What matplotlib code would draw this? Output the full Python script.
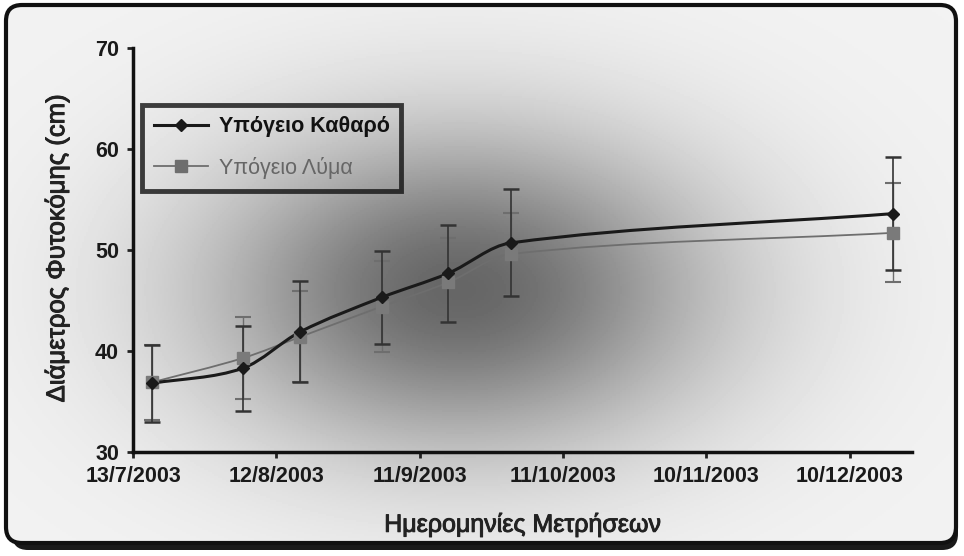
import numpy as np
import matplotlib
matplotlib.use("Agg")
import matplotlib.pyplot as plt
import matplotlib.dates as mdates
import matplotlib.patheffects as pe
from matplotlib.path import Path
from matplotlib.patches import PathPatch, FancyBboxPatch
from matplotlib.lines import Line2D
from datetime import datetime

# measurement dates and plant diameter (cm), mean and error
dates = ["17/7/2003", "5/8/2003", "17/8/2003", "3/9/2003",
         "17/9/2003", "30/9/2003", "19/12/2003"]
clean_mean = [36.8, 38.3, 41.9, 45.3, 47.7, 50.7, 53.6]
clean_err = [3.8, 4.2, 5.0, 4.6, 4.8, 5.3, 5.6]
sludge_mean = [36.9, 39.3, 41.4, 44.4, 46.8, 49.6, 51.7]
sludge_err = [3.7, 4.1, 4.5, 4.5, 4.4, 4.1, 4.9]

tick_labels = ["13/7/2003", "12/8/2003", "11/9/2003",
               "11/10/2003", "10/11/2003", "10/12/2003"]
x_range = ["13/7/2003", "23/12/2003"]

labels = ["Υπόγειο Καθαρό", "Υπόγειο Λύμα"]

FONT = ["Liberation Sans", "DejaVu Sans"]


def to_num(s):
    return mdates.date2num(datetime.strptime(s, "%d/%m/%Y"))


def smooth_path(x, y):
    # cubic hermite through the points (no overshoot in x)
    x = np.asarray(x, float)
    y = np.asarray(y, float)
    n = len(x)
    m = np.zeros(n)
    m[0] = (y[1] - y[0]) / (x[1] - x[0])
    m[-1] = (y[-1] - y[-2]) / (x[-1] - x[-2])
    for i in range(1, n - 1):
        m[i] = (y[i + 1] - y[i - 1]) / (x[i + 1] - x[i - 1])
    verts = [(x[0], y[0])]
    codes = [Path.MOVETO]
    for i in range(n - 1):
        dx = (x[i + 1] - x[i]) / 3.0
        verts += [(x[i] + dx, y[i] + m[i] * dx),
                  (x[i + 1] - dx, y[i + 1] - m[i + 1] * dx),
                  (x[i + 1], y[i + 1])]
        codes += [Path.CURVE4] * 3
    return Path(verts, codes)


def main():
    xs = [to_num(d) for d in dates]

    fig = plt.figure(figsize=(9.64, 5.56), dpi=100)
    fig.patch.set_facecolor("white")

    # background: black shadow, rounded frame, radial grey gradient
    bg = fig.add_axes([0, 0, 1, 1], zorder=-5)
    bg.set_xlim(0, 964)
    bg.set_ylim(556, 0)
    bg.axis("off")

    shadow = FancyBboxPatch((12, 14), 946, 536,
                            boxstyle="round,pad=0,rounding_size=16",
                            facecolor="#1a1a1a", edgecolor="none")
    bg.add_patch(shadow)

    gx, gy = np.meshgrid(np.linspace(0, 964, 482), np.linspace(0, 556, 278))
    d2 = ((gx - 460) / 360.0) ** 2 + ((gy - 290) / 225.0) ** 2
    shade = 0.40 + 0.55 * (1 - np.exp(-2.0 * d2))
    img = bg.imshow(shade, cmap="gray", vmin=0, vmax=1,
                    extent=[0, 964, 556, 0], aspect="auto", zorder=1)
    frame = FancyBboxPatch((6, 5), 950, 538,
                           boxstyle="round,pad=0,rounding_size=16",
                           facecolor="none", edgecolor="#111111",
                           linewidth=3, zorder=2)
    bg.add_patch(frame)
    img.set_clip_path(frame)

    ax = fig.add_axes([133 / 964, 104 / 556, (912 - 133) / 964, (452 - 48) / 556])
    ax.patch.set_alpha(0)

    # error bars (drawn first)
    ax.errorbar(xs, sludge_mean, yerr=sludge_err, fmt="none",
                ecolor="#6e6e6e", elinewidth=1, capsize=6, capthick=1.5, zorder=2)
    ax.errorbar(xs, clean_mean, yerr=clean_err, fmt="none",
                ecolor="#333333", elinewidth=1.2, capsize=6, capthick=1.8, zorder=3)

    # smoothed lines
    ax.add_patch(PathPatch(smooth_path(xs, sludge_mean), facecolor="none",
                           edgecolor="#6e6e6e", linewidth=1.3, zorder=4))
    ax.add_patch(PathPatch(smooth_path(xs, clean_mean), facecolor="none",
                           edgecolor="#1a1a1a", linewidth=2.2, zorder=5))

    ax.plot(xs, sludge_mean, linestyle="none", marker="s", markersize=8,
            color="#7a7a7a", zorder=6)
    ax.plot(xs, clean_mean, linestyle="none", marker="D", markersize=6.5,
            color="#1a1a1a", zorder=7)

    ax.set_xlim(to_num(x_range[0]), to_num(x_range[1]))
    ax.set_ylim(30, 70)
    ax.set_yticks([30, 40, 50, 60, 70])
    ax.set_xticks([to_num(t) for t in tick_labels])
    ax.set_xticklabels(tick_labels)

    for side in ["top", "right"]:
        ax.spines[side].set_visible(False)
    for side in ["left", "bottom"]:
        ax.spines[side].set_linewidth(2.5)
        ax.spines[side].set_color("#111111")

    ax.tick_params(axis="both", direction="out", length=4, width=2,
                   color="#222222", pad=6)
    for lab in ax.get_xticklabels() + ax.get_yticklabels():
        lab.set_family(FONT)
        lab.set_fontweight("bold")
        lab.set_fontsize(15.5)
        lab.set_color("#1a1a1a")

    # axis titles: medium weight look via a thin stroke
    medium = [pe.withStroke(linewidth=0.7, foreground="#222222")]
    ax.set_ylabel("Διάμετρος Φυτοκόμης (cm)", family=FONT, fontsize=18.5,
                  color="#222222", path_effects=medium)
    ax.yaxis.set_label_coords(-0.082, 0.505)
    ax.set_xlabel("Ημερομηνίες Μετρήσεων", family=FONT, fontsize=18,
                  color="#222222", path_effects=medium)
    ax.xaxis.set_label_coords(0.5, -0.148)

    handles = [
        Line2D([], [], color="#1a1a1a", linewidth=2.2, marker="D", markersize=6.5),
        Line2D([], [], color="#6e6e6e", linewidth=1.3, marker="s", markersize=8),
    ]
    leg = ax.legend(handles, labels, loc="upper left",
                    bbox_to_anchor=(0.012, 0.86), borderaxespad=0,
                    frameon=True, fancybox=False,
                    shadow=False, handlelength=2.5, handletextpad=0.5,
                    borderpad=0.55, labelspacing=0.9,
                    prop={"family": FONT, "size": 15.5})
    leg.get_frame().set_edgecolor("#111111")
    leg.get_frame().set_linewidth(3.5)
    leg.get_frame().set_facecolor("none")
    texts = leg.get_texts()
    texts[0].set_fontweight("bold")
    texts[0].set_color("#111111")
    texts[1].set_color("#666666")

    fig.savefig("out.png", dpi=100)


if __name__ == "__main__":
    main()
